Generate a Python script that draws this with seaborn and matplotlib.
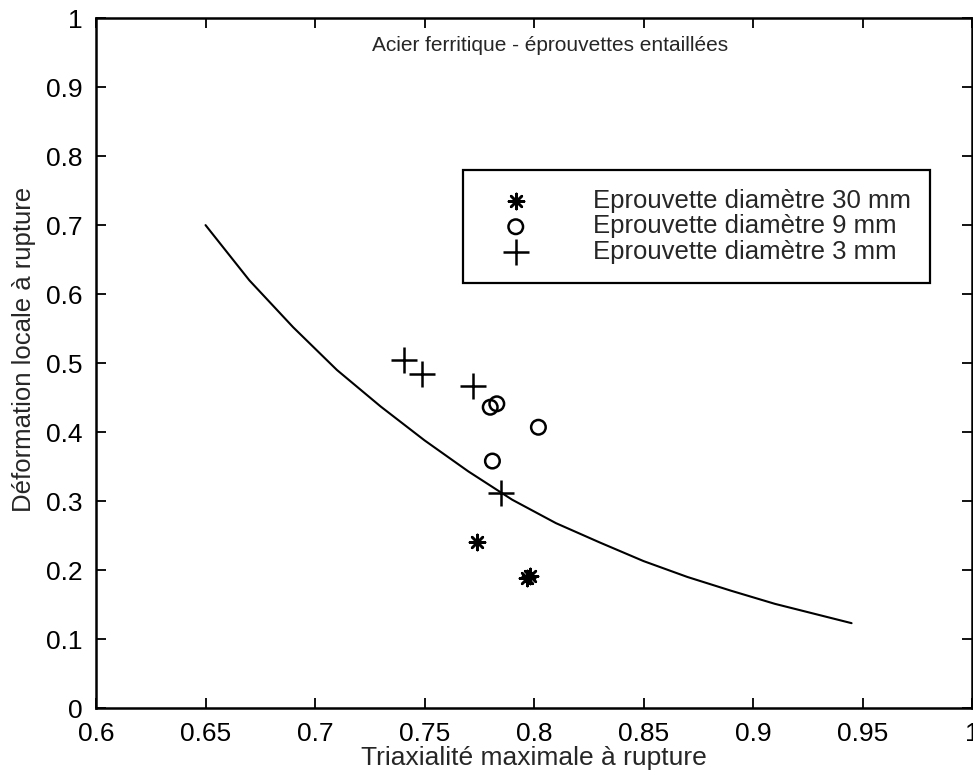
import numpy as np
import pandas as pd
import seaborn as sns
import matplotlib.pyplot as plt

# curve
curve_x = [0.65, 0.67, 0.69, 0.71, 0.73, 0.75, 0.77, 0.79, 0.81, 0.83, 0.85, 0.87, 0.89, 0.91, 0.93, 0.945]
curve_y = [0.700, 0.620, 0.552, 0.490, 0.437, 0.388, 0.343, 0.302, 0.268, 0.240, 0.213, 0.190, 0.170, 0.151, 0.135, 0.123]

# specimens
d30_x = [0.774, 0.797, 0.798]
d30_y = [0.241, 0.189, 0.191]
d9_x = [0.780, 0.783, 0.802, 0.781]
d9_y = [0.436, 0.441, 0.407, 0.358]
d3_x = [0.7405, 0.749, 0.772, 0.785]
d3_y = [0.504, 0.484, 0.467, 0.312]

labels = ['Eprouvette diamètre 30 mm', 'Eprouvette diamètre 9 mm', 'Eprouvette diamètre 3 mm']

x_ticks = [0.6, 0.65, 0.7, 0.75, 0.8, 0.85, 0.9, 0.95, 1.0]
x_tick_labels = ['0.6', '0.65', '0.7', '0.75', '0.8', '0.85', '0.9', '0.95', '1']
y_ticks = [0, 0.1, 0.2, 0.3, 0.4, 0.5, 0.6, 0.7, 0.8, 0.9, 1.0]
y_tick_labels = ['0', '0.1', '0.2', '0.3', '0.4', '0.5', '0.6', '0.7', '0.8', '0.9', '1']

sns.set_style('ticks')
plt.rcParams['font.family'] = ['Liberation Sans', 'DejaVu Sans']

fig = plt.figure(figsize=(9.73, 7.76), dpi=100)
ax = fig.add_axes([0.0987, 0.0876, 0.9003, 0.889])

sns.lineplot(x=curve_x, y=curve_y, color='black', linewidth=1.5, ax=ax, sort=False)

sns.scatterplot(x=d30_x, y=d30_y, marker=(8, 2, 0), s=120, color='black',
                edgecolor='black', linewidth=1.8, ax=ax, label=labels[0])
sns.scatterplot(x=d9_x, y=d9_y, marker='o', s=110, facecolor='none',
                edgecolor='black', linewidth=1.8, ax=ax, label=labels[1])
sns.scatterplot(x=d3_x, y=d3_y, marker='+', s=330, color='black',
                linewidth=1.8, ax=ax, label=labels[2])

ax.set_xlim(0.6, 1.0)
ax.set_ylim(0, 1)
ax.set_xticks(x_ticks)
ax.set_xticklabels(x_tick_labels)
ax.set_yticks(y_ticks)
ax.set_yticklabels(y_tick_labels)
ax.tick_params(direction='in', length=7, width=1.3, labelsize=19,
               top=True, right=True, colors='black')
ax.tick_params(axis='x', pad=10)
ax.tick_params(axis='y', pad=10)
for sp in ax.spines.values():
    sp.set_visible(True)
    sp.set_color('black')
    sp.set_linewidth(1.8)

ax.set_xlabel('Triaxialité maximale à rupture', fontsize=19, labelpad=0)
ax.set_ylabel('Déformation locale à rupture', fontsize=18.5)
ax.yaxis.set_label_coords(-0.068, 0.52)
ax.text(0.518, 0.96, 'Acier ferritique - éprouvettes entaillées', transform=ax.transAxes,
        ha='center', va='center', fontsize=15)

leg = ax.legend(loc='upper left', bbox_to_anchor=(0.419, 0.78), borderaxespad=0,
                fontsize=18.5, frameon=True, fancybox=False, edgecolor='black',
                framealpha=1, handletextpad=1.7, borderpad=0.75, labelspacing=0.05,
                handlelength=2.6)
leg.get_frame().set_linewidth(1.6)

fig.savefig('out.png', dpi=100, facecolor='white')
